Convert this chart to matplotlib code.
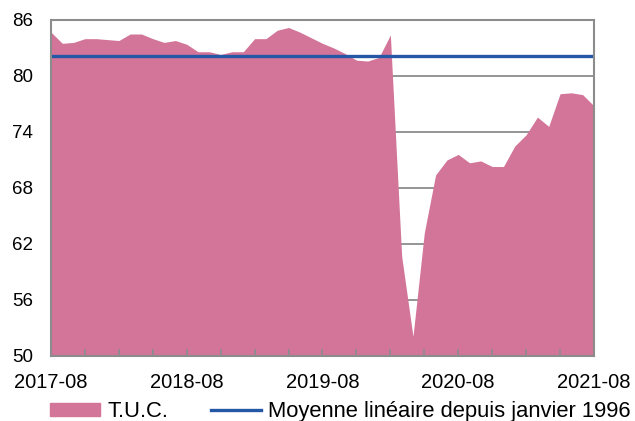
# T.U.C. (taux d'utilisation des capacités) - area chart with long-run average
import pandas as pd
import matplotlib.pyplot as plt
from matplotlib.patches import Patch
from matplotlib.lines import Line2D

plt.rcParams['font.family'] = ['Liberation Sans', 'DejaVu Sans']

# Monthly data, 2017-08 to 2021-08
months = pd.period_range('2017-08', '2021-08', freq='M').strftime('%Y-%m').tolist()
tuc = [84.7, 83.5, 83.6, 84.0, 84.0, 83.9, 83.8, 84.5, 84.5, 84.0,
       83.6, 83.8, 83.4, 82.6, 82.6, 82.3, 82.6, 82.6, 84.0, 84.0,
       84.9, 85.2, 84.7, 84.1, 83.5, 83.0, 82.4, 81.7, 81.6, 82.0,
       84.4, 60.7, 52.1, 63.2, 69.4, 71.0, 71.6, 70.7, 70.9, 70.3,
       70.3, 72.5, 73.7, 75.6, 74.6, 78.1, 78.2, 78.0, 76.8]
moyenne = 82.15
yticks = [50, 56, 62, 68, 74, 80, 86]

pink = '#D27598'
blue = '#2458A6'
grey = '#8C8C8C'

fig = plt.figure(figsize=(6.35, 4.21), dpi=100)
ax = fig.add_axes([0.0803, 0.1544, 0.8551, 0.7981])

x = range(len(months))
ax.fill_between(x, 50, tuc, color=pink, lw=0, zorder=2)
ax.axhline(moyenne, color=blue, lw=2.4, zorder=3)

ax.set_xlim(0, len(months) - 1)
ax.set_ylim(50, 86)
ax.set_yticks(yticks)
ax.yaxis.grid(True, color=grey, lw=1.3, zorder=1)
ax.set_axisbelow(True)

# ticks every 3 months, labels every 12
ax.set_xticks(range(0, len(months), 3))
ax.set_xticklabels([months[i] if i % 12 == 0 else '' for i in range(0, len(months), 3)])
ax.tick_params(axis='x', direction='in', length=5, color=grey, width=1.2,
               labelsize=14.5, pad=12)
ax.tick_params(axis='y', length=0, labelsize=13.5, pad=13)
for s in ax.spines.values():
    s.set_color(grey)
    s.set_linewidth(1.5)
    s.set_zorder(4)
ax.xaxis.set_zorder(5)

handles = [Patch(color=pink), Line2D([], [], color=blue, lw=2.4)]
labels = ['T.U.C.', 'Moyenne linéaire depuis janvier 1996']
fig.legend(handles, labels, loc='center left', bbox_to_anchor=(50 / 635, 0.022),
           ncol=2, frameon=False, fontsize=15.8, handlelength=2.3,
           handletextpad=0.3, columnspacing=1.95, handleheight=0.55, borderpad=0,
           borderaxespad=0)

plt.savefig('out.png', dpi=100)
